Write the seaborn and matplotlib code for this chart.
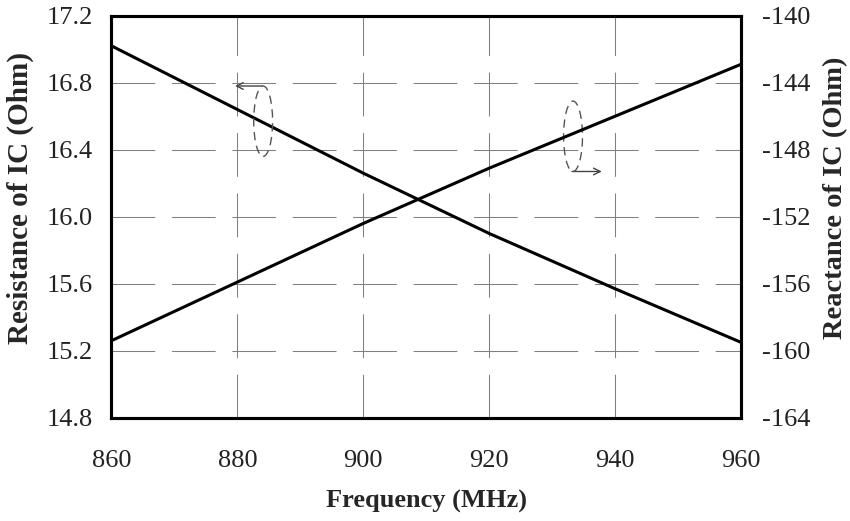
import matplotlib
matplotlib.use("Agg")
import matplotlib.pyplot as plt
from matplotlib.patches import Ellipse
import seaborn as sns
import pandas as pd

# ---- data ----
freq = [860, 880, 900, 920, 940, 960]
resistance = [17.02, 16.64, 16.26, 15.90, 15.57, 15.25]
reactance = [-159.4, -155.9, -152.4, -149.1, -146.0, -142.9]

x_ticks = [860, 880, 900, 920, 940, 960]
r_ticks = [14.8, 15.2, 15.6, 16.0, 16.4, 16.8, 17.2]
x_ticks_r = [-164, -160, -156, -152, -148, -144, -140]

sns.set_theme(style="white")
plt.rcParams["font.family"] = ["Liberation Serif", "DejaVu Serif"]

df = pd.DataFrame({"freq": freq, "R": resistance, "X": reactance})

fig = plt.figure(figsize=(8.5, 5.21), dpi=100)
ax = fig.add_axes([0.131, 0.198, 0.741, 0.772])
ax2 = ax.twinx()

sns.lineplot(data=df, x="freq", y="R", ax=ax, color="black", linewidth=2.2)
sns.lineplot(data=df, x="freq", y="X", ax=ax2, color="black", linewidth=2.2)

ax.set_xlim(860, 960)
ax.set_ylim(14.8, 17.2)
ax2.set_ylim(-164, -140)
ax.set_xticks(x_ticks)
ax.set_yticks(r_ticks)
ax2.set_yticks(x_ticks_r)
ax.set_xticklabels([str(v) for v in x_ticks])
ax.set_yticklabels([f"{v:.1f}" for v in r_ticks])
ax2.set_yticklabels([str(v) for v in x_ticks_r])

for a in (ax, ax2):
    a.tick_params(axis="both", length=0, labelsize=19, colors="#222222")
ax.tick_params(axis="x", pad=23)
ax.tick_params(axis="y", pad=13.5)
ax2.tick_params(axis="y", pad=15)

ax.grid(True, color="#808080", linewidth=0.75, linestyle=(0, (42, 16)))
ax2.grid(False)

for a in (ax, ax2):
    for s in a.spines.values():
        s.set_color("black")
        s.set_linewidth(2.2)

ax.set_xlabel("Frequency (MHz)", fontsize=19, fontweight="bold", labelpad=13)
ax.set_ylabel("Resistance of IC (Ohm)", fontsize=21, fontweight="bold")
ax2.set_ylabel("Reactance of IC (Ohm)", fontsize=20.5, fontweight="bold")
ax.yaxis.set_label_coords(-0.123, 0.547)
ax2.yaxis.set_label_coords(1.130, 0.547)

# annotations: dashed ellipses with arrows
ax.add_patch(Ellipse((884.1, 16.57), 3.0, 0.42, fill=False, edgecolor="#555555",
                     linestyle=(0, (6, 4)), linewidth=1.0, zorder=5))
ax.annotate("", xy=(879.2, 16.78), xytext=(884.4, 16.78),
            arrowprops=dict(arrowstyle="->", color="#444444", lw=1.0))
ax.add_patch(Ellipse((933.3, 16.48), 3.0, 0.42, fill=False, edgecolor="#555555",
                     linestyle=(0, (6, 4)), linewidth=1.0, zorder=5))
ax.annotate("", xy=(938.3, 16.27), xytext=(932.7, 16.27),
            arrowprops=dict(arrowstyle="->", color="#444444", lw=1.0))

fig.savefig("out.png", dpi=100)
